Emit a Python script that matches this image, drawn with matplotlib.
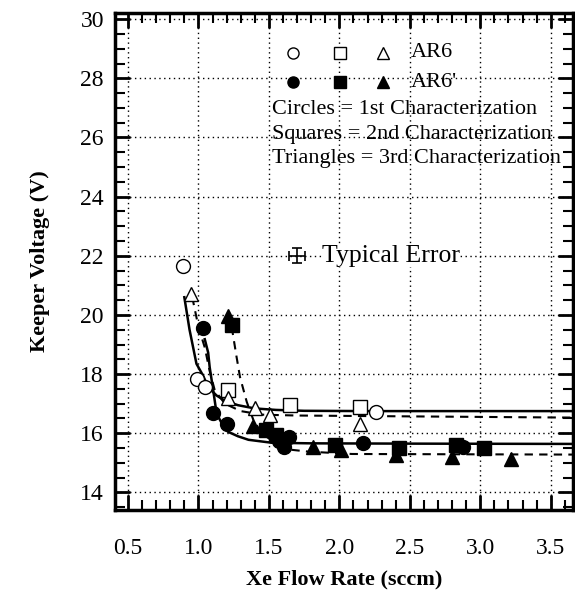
import matplotlib
matplotlib.use("Agg")
import matplotlib.pyplot as plt
from matplotlib.ticker import MultipleLocator

plt.rcParams['font.family'] = ['Liberation Serif', 'DejaVu Serif']

# AR6 (open symbols)
ar6_circ_x = [0.89, 0.99, 1.045, 2.26]
ar6_circ_y = [21.65, 17.85, 17.55, 16.72]
ar6_sq_x = [1.21, 1.65, 2.15]
ar6_sq_y = [17.45, 16.95, 16.9]
ar6_tri_x = [0.95, 1.21, 1.40, 1.51, 2.15]
ar6_tri_y = [20.72, 17.18, 16.84, 16.62, 16.33]

# AR6' (filled symbols)
ar6p_circ_x = [1.035, 1.105, 1.20, 1.57, 1.64, 1.61, 2.17, 2.88]
ar6p_circ_y = [19.55, 16.67, 16.33, 15.75, 15.88, 15.52, 15.66, 15.55]
ar6p_sq_x = [1.236, 1.48, 1.55, 1.97, 2.42, 2.83, 3.03]
ar6p_sq_y = [19.65, 16.1, 15.95, 15.62, 15.5, 15.62, 15.5]
ar6p_tri_x = [1.212, 1.39, 1.81, 2.01, 2.40, 2.80, 3.22]
ar6p_tri_y = [19.98, 16.25, 15.55, 15.42, 15.25, 15.2, 15.12]

# curves
fit_ar6_x = [0.90, 0.937, 0.986, 1.033, 1.069, 1.128, 1.188, 1.28, 1.40, 1.55, 1.75, 2.2, 3.0, 3.66]
fit_ar6_y = [20.6, 19.5, 18.35, 17.95, 17.56, 17.28, 17.1, 16.95, 16.84, 16.79, 16.76, 16.75, 16.75, 16.75]
fit_ar6p_x = [1.045, 1.069, 1.08, 1.105, 1.129, 1.164, 1.21, 1.28, 1.355, 1.52, 1.8, 2.5, 3.66]
fit_ar6p_y = [19.18, 18.73, 18.23, 17.45, 16.67, 16.35, 16.05, 15.9, 15.78, 15.68, 15.66, 15.65, 15.64]
dash_ar6_x = [0.95, 0.962, 1.0, 1.045, 1.08, 1.116, 1.188, 1.30, 1.45, 1.7, 3.66]
dash_ar6_y = [20.6, 20.47, 19.6, 18.9, 18.1, 17.45, 17.0, 16.75, 16.63, 16.6, 16.53]
dash_ar6p_x = [1.236, 1.27, 1.295, 1.343, 1.39, 1.45, 1.55, 1.664, 1.78, 2.09, 3.66]
dash_ar6p_y = [19.6, 18.6, 17.9, 17.06, 16.45, 16.0, 15.65, 15.44, 15.38, 15.3, 15.28]

xticks = [0.5, 1.0, 1.5, 2.0, 2.5, 3.0, 3.5]
yticks = [14, 16, 18, 20, 22, 24, 26, 28, 30]

fig = plt.figure(figsize=(5.75, 6.02), dpi=100)
ax = fig.add_axes([0.2, 0.153, 0.797, 0.825])

ax.plot(fit_ar6_x, fit_ar6_y, color='black', lw=1.8)
ax.plot(fit_ar6p_x, fit_ar6p_y, color='black', lw=1.8)
ax.plot(dash_ar6_x, dash_ar6_y, color='black', lw=1.5, ls=(0, (4, 3)))
ax.plot(dash_ar6p_x, dash_ar6p_y, color='black', lw=1.5, ls=(0, (4, 3)))

ms = 10
kw_open = dict(ls='none', mfc='white', mec='black', mew=1.0, ms=ms)
kw_fill = dict(ls='none', mfc='black', mec='black', ms=ms)
ax.plot(ar6_circ_x, ar6_circ_y, 'o', **kw_open)
ax.plot(ar6_sq_x, ar6_sq_y, 's', **kw_open)
ax.plot(ar6_tri_x, ar6_tri_y, '^', **kw_open)
ax.plot(ar6p_circ_x, ar6p_circ_y, 'o', **kw_fill)
ax.plot(ar6p_sq_x, ar6p_sq_y, 's', **kw_fill)
ax.plot(ar6p_tri_x, ar6p_tri_y, '^', **kw_fill)

# typical error bar
ax.errorbar([1.70], [22.0], xerr=[0.055], yerr=[0.25], fmt='none', ecolor='black',
            elinewidth=1.2, capsize=3.5, capthick=1.2)
ax.text(1.88, 22.0, 'Typical Error', fontsize=18.5, va='center', ha='left',
        bbox=dict(facecolor='white', edgecolor='none', pad=0))

# hand-drawn style key
lk = dict(transform=ax.transAxes, ls='none', ms=8, mec='black', clip_on=False)
for mk, xa in [('o', 0.389), ('s', 0.491), ('^', 0.585)]:
    ax.plot([xa], [0.920], mk, mfc='white', **lk)
    ax.plot([xa], [0.861], mk, mfc='black', **lk)
ax.text(0.645, 0.920, 'AR6', transform=ax.transAxes, fontsize=16, va='center')
ax.text(0.645, 0.861, "AR6'", transform=ax.transAxes, fontsize=16, va='center')
key_lines = ['Circles = 1st Characterization',
             'Squares = 2nd Characterization',
             'Triangles = 3rd Characterization']
for i, s in enumerate(key_lines):
    ax.text(0.342, 0.806 - i * 0.0495, s, transform=ax.transAxes, fontsize=16,
            va='center', ha='left')

ax.set_xlim(0.408, 3.66)
ax.set_ylim(13.41, 30.2)
ax.set_xticks(xticks)
ax.set_xticklabels([f'{v:.1f}' for v in xticks])
ax.set_yticks(yticks)
ax.xaxis.set_minor_locator(MultipleLocator(0.1))
ax.yaxis.set_minor_locator(MultipleLocator(0.5))
ax.tick_params(which='both', direction='in', top=True, right=True, labelsize=17)
ax.tick_params(which='major', length=11, width=2)
ax.tick_params(which='minor', length=7, width=1.5)
ax.tick_params(axis='x', pad=20)
ax.tick_params(axis='y', pad=8)
ax.grid(True, which='major', color='black', ls=(0, (1, 2.5)), lw=1.0)
for sp in ax.spines.values():
    sp.set_linewidth(2.5)

ax.set_xlabel('Xe Flow Rate (sccm)', fontsize=16, fontweight='bold', labelpad=8)
ax.set_ylabel('Keeper Voltage (V)', fontsize=16, fontweight='bold', labelpad=22)

fig.savefig('out.png', dpi=100)
